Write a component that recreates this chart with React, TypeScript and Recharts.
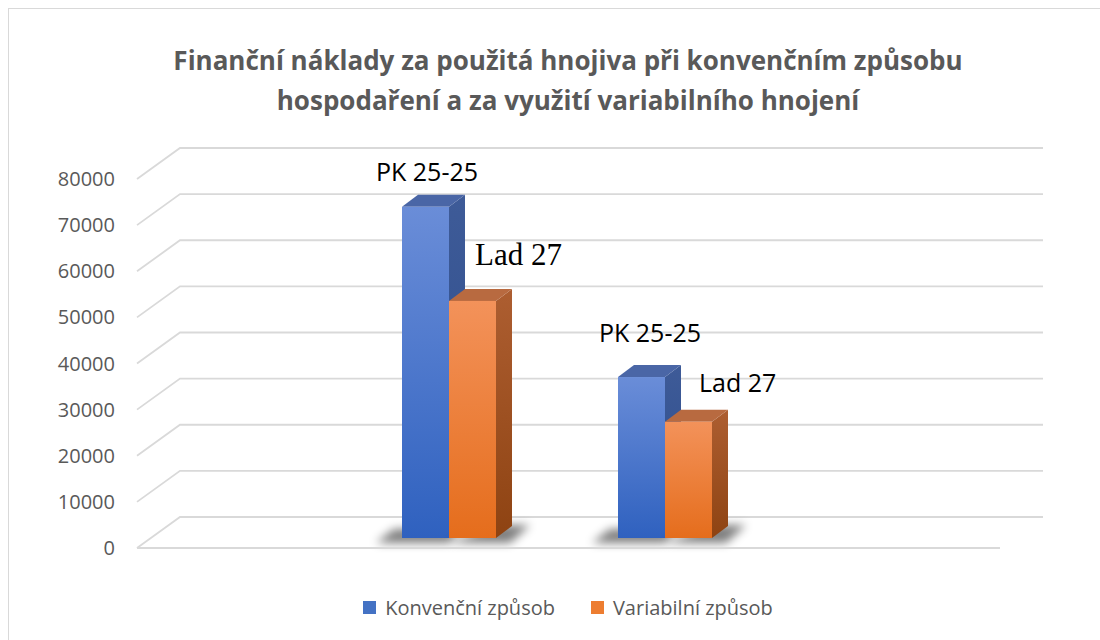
import { Bar, BarChart, CartesianGrid, Legend, ReferenceLine, XAxis, YAxis } from "recharts";

// kategorie (bez popisků) – 1. a 4. pozice je prázdná
const categories = ["", "", "", ""];
const konvencni = [null, 71800, 34900, null];
const variabilni = [null, 51400, 25200, null];
const konvencniLabels = ["", "PK 25-25", "PK 25-25", ""];
const variabilniLabels = ["", "Lad 27", "Lad 27", ""];
const yTicks = [0, 10000, 20000, 30000, 40000, 50000, 60000, 70000, 80000];

const seriesNames = ["Konvenční způsob", "Variabilní způsob"];

const data = categories.map((c, i) => ({
  idx: i,
  cat: c,
  konv: konvencni[i],
  vari: variabilni[i],
}));

// 3D geometrie
const FLOOR_X = 26; // začátek podlahy vůči levému okraji plochy
const WALL_DX = 43;
const WALL_DY = -31;
const BAR_DX = 14;
const BAR_DY = -10;
const SIDE_DX = 16;
const SIDE_DY = -12;

const GRID = "#d9d9d9";
const TEXT = "#595959";
const SANS = "'Open Sans', sans-serif";

const palette = {
  konv: { front: "url(#gBlue)", side: "url(#gBlueSide)", top: "#4a66a6", legend: "#4472c4" },
  vari: { front: "url(#gOrange)", side: "url(#gOrangeSide)", top: "#b86a40", legend: "#ed7d31" },
};

// pozice popisků ručně posunuté (jako v Excelu)
const konvLabelPos = [null, { dx: 25, dy: -26, anchor: "middle" }, { dx: 32, dy: -35, anchor: "middle" }, null];
const variLabelPos = [
  null,
  { dx: 26, dy: -36, anchor: "start", font: "'Liberation Serif', serif", size: 31 },
  { dx: 34, dy: -30, anchor: "start" },
  null,
];

const seriesCfg = {
  konv: { labels: konvencniLabels, pos: konvLabelPos },
  vari: { labels: variabilniLabels, pos: variLabelPos },
};

const makeShape = (key: "konv" | "vari") => (props: any) => {
  const { x, y, width: w, height: h, payload } = props;
  if (h == null || isNaN(h) || h <= 0) return <g />;
  const c = palette[key];
  const i = payload?.idx ?? props.index;
  const label = seriesCfg[key].labels[i];
  const lp: any = seriesCfg[key].pos[i];
  const X = x + BAR_DX;
  const Y = y + BAR_DY;
  const b = Y + h;
  const shadow =
    key === "konv"
      ? `${X - 26},${b + 5} ${X + w},${b + 5} ${X + w + 12},${b - 9} ${X - 8},${b - 9}`
      : `${X},${b + 5} ${X + w + 14},${b + 5} ${X + w + 34},${b - 13} ${X + w},${b - 13}`;
  return (
    <g>
      <polygon points={shadow} fill="#000" opacity={0.5} filter="url(#blurShadow)" />
      <polygon
        points={`${X + w},${Y} ${X + w + SIDE_DX},${Y + SIDE_DY} ${X + w + SIDE_DX},${b + SIDE_DY} ${X + w},${b}`}
        fill={c.side}
      />
      <polygon
        points={`${X},${Y} ${X + SIDE_DX},${Y + SIDE_DY} ${X + w + SIDE_DX},${Y + SIDE_DY} ${X + w},${Y}`}
        fill={c.top}
      />
      <rect x={X} y={Y} width={w} height={h} fill={c.front} />
      {label && lp ? (
        <text
          x={X + lp.dx}
          y={Y + lp.dy}
          textAnchor={lp.anchor}
          fill="#000"
          fontFamily={lp.font || SANS}
          fontSize={lp.size || 25}
        >
          {label}
        </text>
      ) : null}
    </g>
  );
};

const YTick = (props: any) => (
  <text x={props.x + 12} y={props.y} dy={7} textAnchor="end" fill={TEXT} fontSize={20} fontFamily={SANS}>
    {props.payload.value}
  </text>
);

const gridLine = (p: any) => (
  <path
    key={p.key}
    d={`M${p.x1 + FLOOR_X},${p.y1} L${p.x1 + FLOOR_X + WALL_DX},${p.y1 + WALL_DY} L${p.x2 + WALL_DX + 25},${p.y1 + WALL_DY}`}
    stroke={GRID}
    strokeWidth={1.8}
    fill="none"
  />
);

const floorLine = (p: any) => (
  <path d={`M${p.x1 + FLOOR_X},${p.y1} L${p.x2 + 25},${p.y1}`} stroke={GRID} strokeWidth={1.8} fill="none" />
);

const LegendBox = () => (
  <div style={{ display: "flex", justifyContent: "center", gap: 36, fontFamily: SANS, fontSize: 20, color: TEXT }}>
    {seriesNames.map((n, i) => (
      <div key={n} style={{ display: "flex", alignItems: "center", gap: 9 }}>
        <span style={{ width: 13, height: 13, background: i === 0 ? palette.konv.legend : palette.vari.legend }} />
        <span>{n}</span>
      </div>
    ))}
  </div>
);

export default function App() {
  return (
    <div style={{ position: "absolute", left: 0, top: 0, width: 1100, height: 640, overflow: "hidden", background: "#fff" }}>
      <div
        style={{
          position: "absolute",
          left: 8,
          top: 8,
          width: 1120,
          height: 700,
          border: `1.5px solid ${GRID}`,
        }}
      />
      <div
        style={{
          position: "absolute",
          left: 18,
          top: 40,
          width: 1100,
          textAlign: "center",
          fontFamily: SANS,
          fontWeight: 700,
          fontSize: 26,
          lineHeight: "40px",
          color: TEXT,
        }}
      >
        Finanční náklady za použitá hnojiva při konvenčním způsobu
        <br />
        hospodaření a za využití variabilního hnojení
      </div>
      <div style={{ position: "absolute", left: 0, top: 0 }}>
        <BarChart
          width={1100}
          height={640}
          data={data}
          margin={{ top: 179, right: 125, left: 51, bottom: 62 }}
          barGap={0}
          barSize={47}
        >
          <defs>
            <linearGradient id="gBlue" x1="0" y1="0" x2="0" y2="1">
              <stop offset="0%" stopColor="#6a8dd8" />
              <stop offset="100%" stopColor="#2f61bf" />
            </linearGradient>
            <linearGradient id="gBlueSide" x1="0" y1="0" x2="0" y2="1">
              <stop offset="0%" stopColor="#3e5b98" />
              <stop offset="100%" stopColor="#2b4b8a" />
            </linearGradient>
            <linearGradient id="gOrange" x1="0" y1="0" x2="0" y2="1">
              <stop offset="0%" stopColor="#f3925a" />
              <stop offset="100%" stopColor="#e56d1c" />
            </linearGradient>
            <linearGradient id="gOrangeSide" x1="0" y1="0" x2="0" y2="1">
              <stop offset="0%" stopColor="#ad5e31" />
              <stop offset="100%" stopColor="#8e4312" />
            </linearGradient>
            <filter id="blurShadow" x="-50%" y="-100%" width="200%" height="300%">
              <feGaussianBlur stdDeviation="5" />
            </filter>
          </defs>
          <CartesianGrid vertical={false} horizontal={gridLine} />
          <ReferenceLine y={0} shape={floorLine} />
          <XAxis dataKey="cat" hide />
          <YAxis domain={[0, 80000]} ticks={yTicks} axisLine={false} tickLine={false} tick={YTick} width={60} />
          <Legend height={30} content={LegendBox} wrapperStyle={{ left: 18, width: 1100, bottom: 16 }} />
          <Bar dataKey="konv" name={seriesNames[0]} fill="#4472c4" shape={makeShape("konv")} isAnimationActive={false} />
          <Bar dataKey="vari" name={seriesNames[1]} fill="#ed7d31" shape={makeShape("vari")} isAnimationActive={false} />
        </BarChart>
      </div>
    </div>
  );
}
